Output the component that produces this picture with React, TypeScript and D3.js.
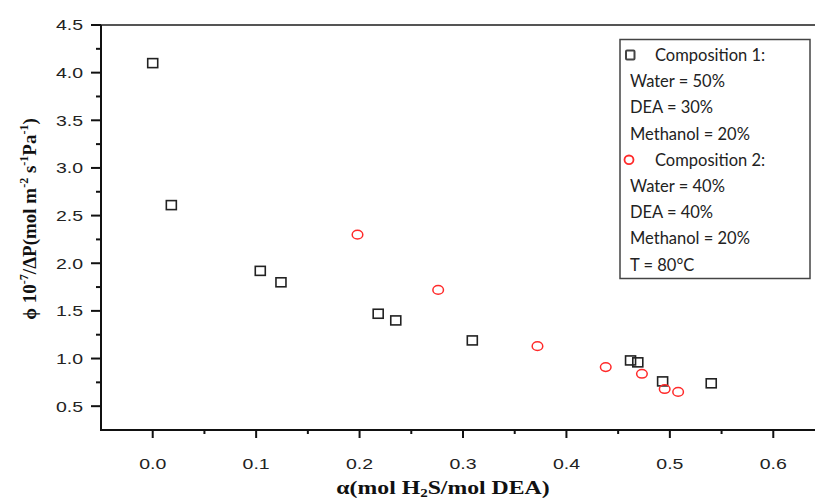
import React from 'react';
import * as d3 from 'd3';

// Composition 1 (squares)
const comp1X = [0.0, 0.018, 0.104, 0.124, 0.218, 0.235, 0.309, 0.462, 0.469, 0.493, 0.540];
const comp1Y = [4.10, 2.61, 1.92, 1.80, 1.47, 1.40, 1.19, 0.98, 0.96, 0.76, 0.74];
// Composition 2 (circles)
const comp2X = [0.198, 0.276, 0.372, 0.438, 0.473, 0.495, 0.508];
const comp2Y = [2.30, 1.72, 1.13, 0.91, 0.84, 0.68, 0.65];

const xTicks = [0.0, 0.1, 0.2, 0.3, 0.4, 0.5, 0.6];
const yTicks = [0.5, 1.0, 1.5, 2.0, 2.5, 3.0, 3.5, 4.0, 4.5];

const legendLines = [
  { text: 'Composition 1:', mark: 'square' },
  { text: 'Water = 50%' },
  { text: 'DEA = 30%' },
  { text: 'Methanol = 20%' },
  { text: 'Composition 2:', mark: 'circle' },
  { text: 'Water = 40%' },
  { text: 'DEA = 40%' },
  { text: 'Methanol = 20%' },
  { text: 'T = 80°C' },
];

const W = 815;
const H = 502;

export default function App() {
  const x = d3.scaleLinear().domain([-0.05, 0.65]).range([101, 825]);
  const y = d3.scaleLinear().domain([0.25, 4.5]).range([430, 25]);

  const xMinor = d3.range(0.05, 0.66, 0.1);
  const yMinor = d3.range(0.75, 4.5, 0.5);

  const tickFont = '"Liberation Sans", Arial, sans-serif';
  const serif = '"Liberation Serif", "Times New Roman", serif';
  const legendFont = 'Lato, "Open Sans", sans-serif';

  return (
    <svg width={W} height={H} style={{ position: 'absolute', left: 0, top: 0, background: '#fff' }}>
      {/* top frame */}
      <line x1={91} x2={W} y1={y(4.5)} y2={y(4.5)} stroke="#555" strokeWidth={2} />
      {/* axes */}
      <line x1={x(-0.05)} x2={x(-0.05)} y1={y(4.5)} y2={y(0.25)} stroke="#111" strokeWidth={2} />
      <line x1={x(-0.05) - 1} x2={W} y1={y(0.25)} y2={y(0.25)} stroke="#111" strokeWidth={2} />

      {/* y ticks */}
      {yTicks.map(t => (
        <g key={'y' + t}>
          <line x1={x(-0.05) - 10} x2={x(-0.05)} y1={y(t)} y2={y(t)} stroke="#111" strokeWidth={2} />
          <text x={83} y={y(t)} dy="0.36em" textAnchor="end" fontFamily={tickFont} fontSize={15}
            fill="#222" transform={`translate(83,0) scale(1.3,1) translate(-83,0)`}>
            {t.toFixed(1)}
          </text>
        </g>
      ))}
      {yMinor.map(t => (
        <line key={'ym' + t} x1={x(-0.05) - 5} x2={x(-0.05)} y1={y(t)} y2={y(t)} stroke="#111" strokeWidth={2} />
      ))}

      {/* x ticks */}
      {xTicks.map(t => (
        <g key={'x' + t}>
          <line x1={x(t)} x2={x(t)} y1={y(0.25)} y2={y(0.25) + 8} stroke="#111" strokeWidth={2} />
          <text x={x(t)} y={469} textAnchor="middle" fontFamily={tickFont} fontSize={15} fill="#222"
            transform={`translate(${x(t)},0) scale(1.3,1) translate(${-x(t)},0)`}>
            {t.toFixed(1)}
          </text>
        </g>
      ))}
      {xMinor.map(t => (
        <line key={'xm' + t} x1={x(t)} x2={x(t)} y1={y(0.25)} y2={y(0.25) + 4} stroke="#111" strokeWidth={2} />
      ))}

      {/* axis titles */}
      <text x={443} y={494} textAnchor="middle" fontFamily={serif} fontWeight="bold" fontSize={19} fill="#111"
        transform="translate(443,0) scale(1.25,1) translate(-443,0)">
        α(mol H<tspan fontSize={12} dy={3}>2</tspan><tspan dy={-3}>S/mol DEA)</tspan>
      </text>
      <text transform="translate(36,219) rotate(-90)" textAnchor="middle" fontFamily={serif} fontWeight="bold"
        fontSize={19} fill="#111">
        ϕ 10<tspan fontSize={12} dy={-8}>-7</tspan>
        <tspan dy={8}>/ΔP(mol m</tspan>
        <tspan fontSize={12} dy={-8}>-2</tspan>
        <tspan dy={8}> s</tspan>
        <tspan fontSize={12} dy={-8}>-1</tspan>
        <tspan dy={8}>Pa</tspan>
        <tspan fontSize={12} dy={-8}>-1</tspan>
        <tspan dy={8}>)</tspan>
      </text>

      {/* data */}
      {comp1X.map((v, i) => (
        <rect key={'s' + i} x={x(v) - 5} y={y(comp1Y[i]) - 4.5} width={10} height={9}
          fill="none" stroke="#222" strokeWidth={1.6} />
      ))}
      {comp2X.map((v, i) => (
        <ellipse key={'c' + i} cx={x(v)} cy={y(comp2Y[i])} rx={5.3} ry={4.3}
          fill="none" stroke="#ff2a2a" strokeWidth={1.5} />
      ))}

      {/* legend */}
      <rect x={620} y={39.5} width={190} height={239} fill="#fff" stroke="#444" strokeWidth={1.5} />
      {legendLines.map((l, i) => {
        const cy = 55 + i * 26.2;
        return (
          <g key={'lg' + i}>
            {l.mark === 'square' && (
              <rect x={626} y={cy - 4.5} width={8.5} height={9} rx={1} fill="none" stroke="#444" strokeWidth={2} />
            )}
            {l.mark === 'circle' && (
              <ellipse cx={629} cy={cy} rx={4.5} ry={4.3} fill="none" stroke="#ff2a2a" strokeWidth={1.8} />
            )}
            <text x={l.mark ? 655 : 630} y={cy} dy="0.36em" fontFamily={legendFont} fontSize={16.5} fill="#222">
              {l.text}
            </text>
          </g>
        );
      })}
    </svg>
  );
}
